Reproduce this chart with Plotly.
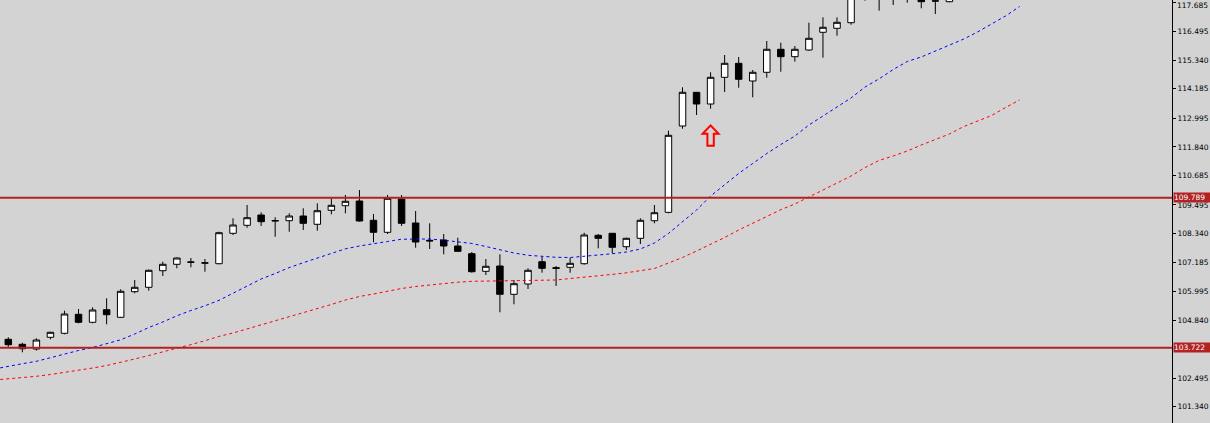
import plotly.graph_objects as go

# ---------------- data ----------------
BARS = list(range(68))

OPEN = [
    104.064, 103.862, 103.672, 104.145, 104.307, 105.075, 104.751, 105.260, 104.953, 105.988,
    106.166, 106.836, 107.095, 107.190, 107.155, 107.119, 108.348, 108.671, 109.087, 108.865,
    108.857, 109.047, 108.712, 109.277, 109.463, 109.653, 108.873, 108.388, 109.734, 108.764,
    108.065, 108.077, 107.835, 107.523, 106.812, 107.026, 105.883, 106.299, 107.200, 106.958,
    106.974, 107.119, 108.267, 108.348, 107.806, 108.146, 108.857, 109.196, 112.684, 114.046,
    113.573, 114.652, 115.218, 114.503, 114.854, 115.784, 115.485, 115.755, 116.471, 116.632,
    116.859, 118.000, 118.200, 117.850, 118.100, 117.950, 117.740, 117.707]

HIGH = [
    104.145, 103.927, 104.105, 104.371, 105.220, 105.289, 105.357, 105.721, 106.085, 106.461,
    106.885, 107.200, 107.370, 107.350, 107.309, 108.412, 108.954, 109.492, 109.196, 108.994,
    109.156, 109.358, 109.560, 109.762, 109.896, 110.098, 109.128, 109.896, 109.896, 109.249,
    108.752, 108.320, 108.170, 107.592, 107.309, 107.499, 106.461, 106.933, 107.402, 107.026,
    107.362, 108.372, 108.320, 108.360, 108.170, 108.954, 109.492, 112.494, 114.248, 114.058,
    114.854, 115.553, 115.473, 114.947, 116.119, 116.050, 115.917, 116.859, 117.077, 117.077,
    118.100, 118.400, 118.500, 118.300, 118.300, 118.100, 118.000, 118.000]

LOW = [
    103.765, 103.539, 103.612, 104.064, 104.266, 104.711, 104.711, 104.670, 104.925, 105.923,
    106.028, 106.622, 106.933, 106.974, 106.796, 107.095, 108.279, 108.574, 108.643, 108.210,
    108.412, 108.481, 108.453, 109.116, 109.156, 108.825, 107.984, 108.320, 108.643, 107.766,
    107.713, 107.499, 107.612, 106.756, 106.663, 105.155, 105.479, 106.097, 106.756, 106.218,
    106.756, 107.079, 107.742, 107.540, 107.673, 107.915, 108.752, 109.156, 112.575, 113.129,
    113.383, 114.058, 114.232, 113.844, 114.636, 114.878, 115.283, 115.727, 115.444, 116.333,
    116.778, 117.748, 117.344, 117.574, 117.667, 117.441, 117.210, 117.683]

CLOSE = [
    103.846, 103.684, 104.036, 104.347, 105.087, 104.751, 105.248, 105.058, 106.004, 106.166,
    106.853, 107.095, 107.350, 107.180, 107.145, 108.372, 108.683, 108.978, 108.817, 108.849,
    109.047, 108.752, 109.261, 109.479, 109.641, 108.845, 108.388, 109.762, 108.752, 107.996,
    108.041, 107.835, 107.620, 106.796, 107.014, 105.883, 106.311, 106.853, 106.933, 106.933,
    107.135, 108.279, 108.146, 107.782, 108.146, 108.873, 109.180, 112.308, 114.046, 113.573,
    114.652, 115.218, 114.571, 114.854, 115.784, 115.485, 115.784, 116.228, 116.673, 116.875,
    117.950, 118.250, 117.850, 118.100, 117.900, 117.707, 117.735, 117.850]

# shifted moving averages (extend past the last bar)
MA_BARS = list(range(-1, 73))
MA_FAST = [
    102.864, 102.985, 103.078, 103.175, 103.329, 103.470, 103.612, 103.733, 103.874, 104.044,
    104.278, 104.541, 104.763, 105.014, 105.228, 105.418, 105.640, 105.935, 106.238, 106.501,
    106.723, 106.962, 107.160, 107.350, 107.532, 107.721, 107.835, 107.915, 108.017, 108.109,
    108.113, 108.118, 108.069, 108.017, 107.936, 107.814, 107.673, 107.552, 107.459, 107.410,
    107.378, 107.370, 107.410, 107.471, 107.523, 107.592, 107.713, 107.956, 108.340, 108.825,
    109.289, 109.855, 110.320, 110.765, 111.169, 111.573, 111.936, 112.280, 112.724, 113.088,
    113.452, 113.816, 114.260, 114.592, 114.967, 115.291, 115.473, 115.715, 115.937, 116.192,
    116.483, 116.806, 117.129, 117.513]
MA_SLOW = [
    102.419, 102.460, 102.520, 102.569, 102.642, 102.723, 102.811, 102.904, 103.005, 103.127,
    103.268, 103.410, 103.551, 103.692, 103.850, 104.008, 104.181, 104.319, 104.480, 104.654,
    104.824, 104.974, 105.127, 105.289, 105.471, 105.652, 105.794, 105.895, 106.016, 106.117,
    106.198, 106.259, 106.315, 106.372, 106.408, 106.420, 106.420, 106.420, 106.440, 106.440,
    106.461, 106.521, 106.570, 106.630, 106.687, 106.752, 106.845, 106.925, 107.148, 107.370,
    107.633, 107.895, 108.178, 108.481, 108.764, 109.027, 109.302, 109.532, 109.815, 110.078,
    110.360, 110.663, 111.007, 111.294, 111.472, 111.674, 111.916, 112.139, 112.361, 112.656,
    112.886, 113.108, 113.432, 113.735]

LEVELS = [109.789, 103.722]
LEVEL_LABELS = ["109.789", "103.722"]

TICK_VALS = [117.685, 116.495, 115.340, 114.185, 112.995, 111.840, 110.685, 109.495,
             108.340, 107.185, 105.995, 104.840, 102.495, 101.340]
TICK_TEXT = ["117.685", "116.495", "115.340", "114.185", "112.995", "111.840", "110.685",
             "109.495", "108.340", "107.185", "105.995", "104.840", "102.495", "101.340"]

ARROW_BAR = 50
ARROW_PRICE = 112.75

# ---------------- figure ----------------
BG = "#D3D3D3"
LEVEL_COLOR = "#B22222"
AXIS_FONT = dict(family="DejaVu Sans", size=7.5, color="#000000")

fig = go.Figure()

fig.add_trace(go.Scatter(x=MA_BARS, y=MA_FAST, mode="lines",
                         line=dict(color="#0000FF", width=1, dash="3px,3px"),
                         hoverinfo="skip"))
fig.add_trace(go.Scatter(x=MA_BARS, y=MA_SLOW, mode="lines",
                         line=dict(color="#FF0000", width=1, dash="3px,3px"),
                         hoverinfo="skip"))

fig.add_trace(go.Candlestick(
    x=BARS, open=OPEN, high=HIGH, low=LOW, close=CLOSE,
    increasing=dict(line=dict(color="#000000", width=1), fillcolor="#FFFFFF"),
    decreasing=dict(line=dict(color="#000000", width=1), fillcolor="#000000"),
    whiskerwidth=0, hoverinfo="skip"))

shapes = []
for lv in LEVELS:
    shapes.append(dict(type="line", xref="paper", yref="y", x0=0, x1=1, y0=lv, y1=lv,
                       line=dict(color=LEVEL_COLOR, width=2)))
shapes.append(dict(type="path", xref="x", yref="y", xsizemode="pixel", ysizemode="pixel",
                   xanchor=ARROW_BAR, yanchor=ARROW_PRICE,
                   path="M0,-1 L8,-9.5 L3.2,-9.5 L3.2,-21.5 L-3.2,-21.5 L-3.2,-9.5 L-8,-9.5 Z",
                   line=dict(color="#FF0000", width=2), fillcolor="rgba(0,0,0,0)"))

annotations = []
for lv, txt in zip(LEVELS, LEVEL_LABELS):
    annotations.append(dict(xref="paper", yref="y", x=1, y=lv, xanchor="left", yanchor="middle",
                            text=txt, showarrow=False, bgcolor=LEVEL_COLOR, borderpad=0,
                            width=37, height=9, align="left", xshift=1,
                            font=dict(family="DejaVu Sans", size=7.5, color="#FFFFFF")))

# the top tick label sits at the very edge; plotly drops it, so draw it as text
tick_text_axis = list(TICK_TEXT)
tick_text_axis[0] = ""
annotations.append(dict(xref="paper", yref="y", x=1, y=TICK_VALS[0], xanchor="left",
                        yanchor="middle", text=TICK_TEXT[0], showarrow=False, borderpad=0,
                        xshift=4, yshift=-3, font=AXIS_FONT))

fig.update_layout(
    width=1210, height=423,
    margin=dict(l=0, r=38, t=0, b=0),
    paper_bgcolor=BG, plot_bgcolor=BG,
    showlegend=False,
    boxgap=0.34,
    shapes=shapes,
    annotations=annotations,
    xaxis=dict(range=[-0.591, 82.85], visible=False, rangeslider=dict(visible=False),
               showgrid=False, zeroline=False),
    yaxis=dict(range=[100.682, 117.776], side="right", showgrid=False, zeroline=False,
               tickmode="array", tickvals=TICK_VALS, ticktext=tick_text_axis,
               ticks="outside", ticklen=3, tickcolor="#000000", tickwidth=1,
               showline=True, linecolor="#000000", linewidth=1,
               tickfont=AXIS_FONT),
)

fig.write_html("out.html",
               config={"displayModeBar": False},
               post_script="document.body.style.margin='0px';document.body.style.overflow='hidden';")
